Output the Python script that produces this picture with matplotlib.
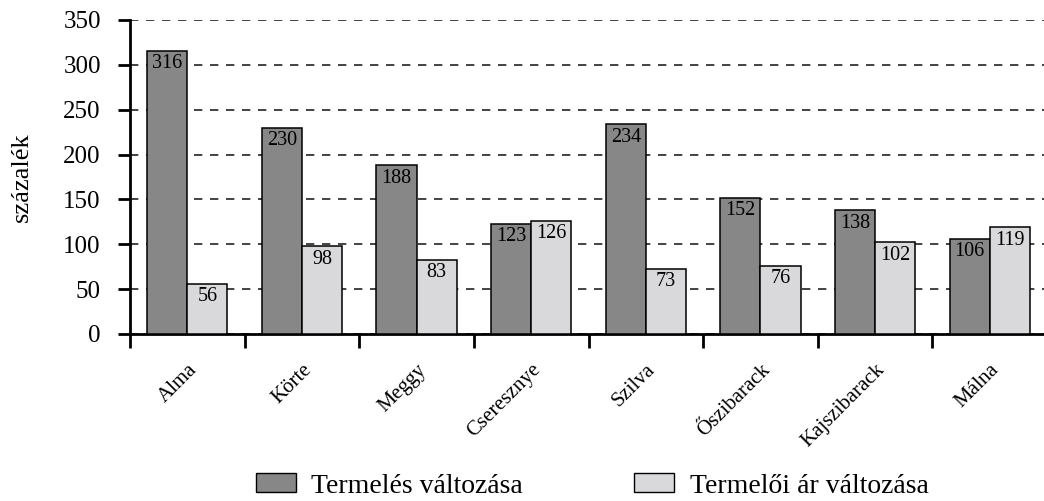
import matplotlib
matplotlib.use("Agg")
import matplotlib.pyplot as plt
import numpy as np
from matplotlib.patches import Patch

categories = ["Alma", "Körte", "Meggy", "Cseresznye", "Szilva", "Őszibarack", "Kajszibarack", "Málna"]
termeles = [316, 230, 188, 123, 234, 152, 138, 106]
ar = [56, 98, 83, 126, 73, 76, 102, 119]
series_names = ["Termelés változása", "Termelői ár változása"]
yticks = [0, 50, 100, 150, 200, 250, 300, 350]

plt.rcParams['font.family'] = ['Liberation Serif', 'DejaVu Serif']

W, H = 1044, 501
fig = plt.figure(figsize=(W / 100, H / 100), dpi=100)
left, right, bottom, top = 130, 1047, 334, 20
ax = fig.add_axes([left / W, (H - bottom) / H, (right - left) / W, (bottom - top) / H])

x = np.arange(len(categories))
bw = 0.35
dark = "#878787"
light = "#d9d9db"
b1 = ax.bar(x - bw / 2, termeles, bw, color=dark, edgecolor="black", linewidth=1.1, zorder=3)
b2 = ax.bar(x + bw / 2, ar, bw, color=light, edgecolor="black", linewidth=1.1, zorder=3)

for bars, vals in ((b1, termeles), (b2, ar)):
    for rect, v in zip(bars, vals):
        ax.annotate(str(v), (rect.get_x() + rect.get_width() / 2, v), xytext=(0, -2.5),
                    textcoords="offset points", ha="center", va="top", fontsize=14.5, zorder=4)

ax.set_xlim(-0.5, len(categories) - 0.5)
ax.set_ylim(0, 350)
ax.set_yticks(yticks)
ax.set_yticklabels([str(t) for t in yticks], fontsize=18)
ax.tick_params(axis="y", direction="out", length=9, width=2, pad=12)

ax.set_xticks(np.arange(len(categories) + 1) - 0.5)
ax.set_xticklabels([])
ax.tick_params(axis="x", which="major", direction="out", length=10, width=2)
ax.set_xticks(x, minor=True)
ax.set_xticklabels(categories, minor=True, rotation=45, ha="right", va="top",
                   rotation_mode="anchor", fontsize=15)
ax.tick_params(axis="x", which="minor", length=0, pad=19)

ax.yaxis.grid(True, linestyle=(0, (5, 4.6)), color="#222222", linewidth=1.2, zorder=0)
ax.set_axisbelow(True)
for s in ("top", "right"):
    ax.spines[s].set_visible(False)
ax.spines["left"].set_linewidth(2)
ax.spines["bottom"].set_linewidth(2)

fig.text(22 / W, (H - 177) / H, "százalék", rotation=90, ha="center", va="center", fontsize=19)

handles = [Patch(facecolor=dark, edgecolor="black", linewidth=1.0),
           Patch(facecolor=light, edgecolor="black", linewidth=1.0)]
fig.legend(handles, series_names, loc="center", bbox_to_anchor=(592 / W, (H - 486) / H),
           ncol=2, frameon=False, fontsize=20, handlelength=1.45, handleheight=0.65,
           handletextpad=0.55, columnspacing=4.0, borderpad=0, borderaxespad=0)

fig.savefig("out.png", dpi=100)
